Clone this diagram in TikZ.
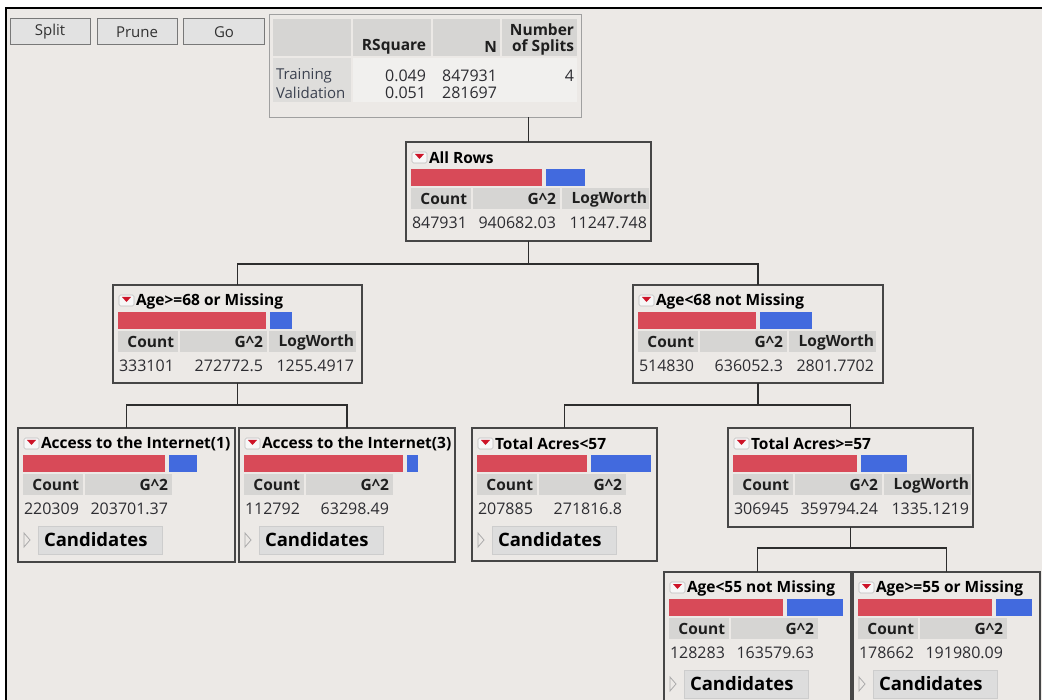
\documentclass[tikz,border=0pt]{standalone}
\usepackage{fontspec}
\setmainfont{Open Sans}

\definecolor{panelbg}{RGB}{236,233,230}
\definecolor{hdrgray}{RGB}{214,213,211}
\definecolor{rowgray}{RGB}{222,221,219}
\definecolor{cellgray}{RGB}{241,240,238}
\definecolor{jmpred}{RGB}{216,74,88}
\definecolor{jmpblue}{RGB}{66,106,222}
\definecolor{boxline}{RGB}{70,70,70}
\definecolor{valtxt}{RGB}{45,45,50}
\definecolor{lbltxt}{RGB}{60,66,80}

% body of one split node: name, title, red bar end, count, G^2, LogWorth
\newcommand{\splitinfo}[6]{%
  \begin{scope}[shift={(#1.north west)}]
    \draw[menubox] (6,10) rectangle (21,21);
    \fill[menutri] (9,12) -- (18,12) -- (13.5,17) -- cycle;
    \node[titletext] (#1-title) at (23,16) {#2};
    \fill[jmpred] (5,27) rectangle (#3,44);
    \fill[jmpblue] ({#3+4},27) rectangle (179,44);
    \fill[hdrgray] (5,46) rectangle (65,67);
    \fill[hdrgray] (67,46) rectangle (154,67);
    \node[hdrtext] (#1-hcount) at (61,57) {Count};
    \node[hdrtext] (#1-hg) at (150,57) {G\textasciicircum2};
    \node[valtext, anchor=west] (#1-count) at (6,81) {#4};
    \node[valtext] (#1-g) at (150,81) {#5};
    \if\relax\detokenize{#6}\relax\else
      \fill[hdrgray] (156,46) rectangle (243,67);
      \node[hdrtext] (#1-hlw) at (241,57) {LogWorth};
      \node[valtext] (#1-lw) at (241,81) {#6};
    \fi
  \end{scope}}

% closed Candidates outline under a leaf
\newcommand{\candinfo}[1]{%
  \begin{scope}[shift={(#1.north west)}]
    \draw[candtri] (6,105) -- (12,112) -- (6,119) -- cycle;
    \node[candbtn] (#1-cand) at (82,112) {};
    \node[candtext] (#1-candlabel) at (26,112) {Candidates};
  \end{scope}}

\begin{document}
\begin{tikzpicture}[x=1pt,y=-1pt,
  every node/.style={inner sep=0pt, outer sep=0pt, font=\fontsize{15}{18}\selectfont},
  btn/.style={draw={rgb,255:red,120;green,120;blue,120}, fill={rgb,255:red,226;green,226;blue,226},
    line width=1pt, minimum height=26, text={rgb,255:red,50;green,50;blue,50}},
  splitbox/.style={draw=boxline, line width=1.4pt, anchor=north west},
  tablebox/.style={draw={rgb,255:red,160;green,160;blue,160}, line width=0.8pt, anchor=north west,
    minimum width=312, minimum height=103},
  menubox/.style={draw={rgb,255:red,190;green,190;blue,190}, fill={rgb,255:red,247;green,247;blue,247},
    line width=0.6pt, rounded corners=1.5pt},
  menutri/.style={fill={rgb,255:red,205;green,20;blue,40}},
  titletext/.style={anchor=west, font=\fontsize{15.5}{18}\selectfont\bfseries},
  hdrtext/.style={anchor=east, font=\fontsize{15.5}{18}\selectfont\bfseries, text={rgb,255:red,30;green,30;blue,30}},
  valtext/.style={anchor=east, text=valtxt, font=\fontsize{16}{18}\selectfont},
  candtri/.style={draw={rgb,255:red,170;green,170;blue,170}, line width=0.8pt},
  candbtn/.style={draw={rgb,255:red,205;green,205;blue,205}, fill={rgb,255:red,221;green,221;blue,221},
    line width=0.8pt, minimum width=124, minimum height=28},
  candtext/.style={anchor=west, font=\fontsize{18.5}{20}\selectfont\bfseries},
  conn/.style={draw={rgb,255:red,45;green,45;blue,45}, line width=1.2pt}]
\useasboundingbox (0,0) rectangle (1042,700);
\clip (0,0) rectangle (1042,700);
\fill[white] (0,0) rectangle (1042,700);
\fill[panelbg] (6,8) rectangle (1042,700);
\draw[black, line width=2.5] (6,701) -- (6,8) -- (1042,8);

% buttons
\node[btn, minimum width=80] (split) at (50,32) {Split};
\node[btn, minimum width=80] (prune) at (137,32) {Prune};
\node[btn, minimum width=81] (go) at (224,32) {Go};

% fit statistics
\node[tablebox] (stats) at (269,14) {};
\fill[hdrgray] (273,19) rectangle (351,56);
\fill[hdrgray] (353,19) rectangle (431,56);
\fill[hdrgray] (433,19) rectangle (500,56);
\fill[hdrgray] (502,19) rectangle (577,56);
\fill[rowgray] (273,58) rectangle (351,102);
\fill[cellgray] (353,58) rectangle (577,102);
\node[hdrtext] (rsq) at (426,47) {RSquare};
\node[hdrtext] (nhead) at (497,47) {N};
\node[hdrtext] (nsplits) at (574,30) {Number};
\node[hdrtext] (nsplitsb) at (574,47) {of Splits};
\node[anchor=west, text=lbltxt] (train) at (276,76) {Training};
\node[anchor=west, text=lbltxt] (valid) at (276,93) {Validation};
\node[valtext] (trainr) at (426,76) {0.049};
\node[valtext] (trainn) at (497,76) {847931};
\node[valtext] (trains) at (574,76) {4};
\node[valtext] (validr) at (426,93) {0.051};
\node[valtext] (validn) at (497,93) {281697};

% tree
\node[splitbox, minimum width=245, minimum height=99] (allrows) at (406,142) {};
\node[splitbox, minimum width=249, minimum height=98] (agehi) at (113,285) {};
\node[splitbox, minimum width=250, minimum height=98] (agelo) at (633,285) {};
\node[splitbox, minimum width=217, minimum height=134] (netone) at (18,428) {};
\node[splitbox, minimum width=216, minimum height=134] (netthree) at (239,428) {};
\node[splitbox, minimum width=185, minimum height=133] (acreslo) at (472,428) {};
\node[splitbox, minimum width=245, minimum height=99] (acreshi) at (728,428) {};
\node[splitbox, minimum width=187, minimum height=134] (agefivelo) at (664,572) {};
\node[splitbox, minimum width=187, minimum height=134] (agefivehi) at (853,572) {};

\splitinfo{allrows}{All Rows}{136}{847931}{940682.03}{11247.748}
\splitinfo{agehi}{Age>=68 or Missing}{153}{333101}{272772.5}{1255.4917}
\splitinfo{agelo}{Age<68 not Missing}{123}{514830}{636052.3}{2801.7702}
\splitinfo{netone}{Access to the Internet(1)}{147}{220309}{203701.37}{}
\splitinfo{netthree}{Access to the Internet(3)}{164}{112792}{63298.49}{}
\splitinfo{acreslo}{Total Acres<57}{115}{207885}{271816.8}{}
\splitinfo{acreshi}{Total Acres>=57}{129}{306945}{359794.24}{1335.1219}
\splitinfo{agefivelo}{Age<55 not Missing}{119}{128283}{163579.63}{}
\splitinfo{agefivehi}{Age>=55 or Missing}{139}{178662}{191980.09}{}
\candinfo{netone}
\candinfo{netthree}
\candinfo{acreslo}
\candinfo{agefivelo}
\candinfo{agefivehi}

\draw[conn] (allrows.north) -- (allrows.north |- stats.south);
\draw[conn] (allrows.south) -- ++(0,23) -| (agehi.north);
\draw[conn] (allrows.south) -- ++(0,23) -| (agelo.north);
\draw[conn] (agehi.south) -- ++(0,22) -| (netone.north);
\draw[conn] (agehi.south) -- ++(0,22) -| (netthree.north);
\draw[conn] (agelo.south) -- ++(0,22) -| (acreslo.north);
\draw[conn] (agelo.south) -- ++(0,22) -| (acreshi.north);
\draw[conn] (acreshi.south) -- ++(0,21) -| (agefivelo.north);
\draw[conn] (acreshi.south) -- ++(0,21) -| (agefivehi.north);
\end{tikzpicture}
\end{document}
